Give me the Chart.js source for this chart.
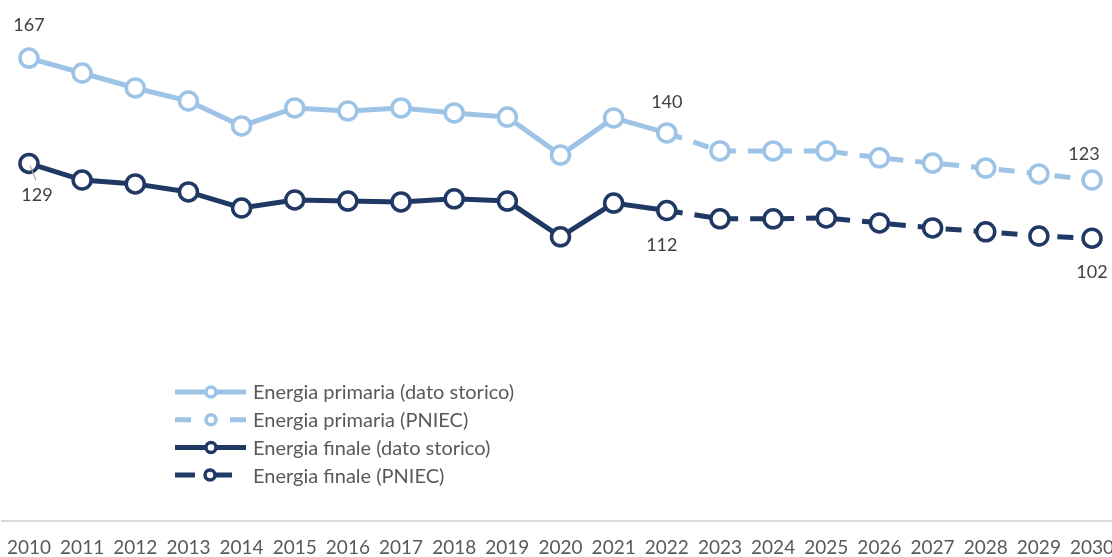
<!DOCTYPE html>
<html>
<head>
<meta charset="utf-8">
<script src="https://cdn.jsdelivr.net/npm/chart.js@4/dist/chart.umd.min.js"></script>
<style>
  html, body { margin: 0; padding: 0; background: #fff; overflow: hidden; }
  #wrap { width: 1112px; height: 557px; overflow: hidden; }
</style>
</head>
<body>
<div id="wrap"><canvas id="c" width="1121" height="557"></canvas></div>
<script>
// anni
var years = ["2010","2011","2012","2013","2014","2015","2016","2017","2018","2019","2020",
             "2021","2022","2023","2024","2025","2026","2027","2028","2029","2030"];

// Energia primaria (Mtep)
var primariaStorico = [167, 161.6, 156.2, 151.5, 142.5, 149, 147.9, 149, 147.2, 145.7, 132, 145.4, 140,
                       null, null, null, null, null, null, null, null];
var primariaPniec   = [null, null, null, null, null, null, null, null, null, null, null, null, 140,
                       133.5, 133.5, 133.5, 131, 129.1, 127.3, 125.2, 123];

// Energia finale (Mtep)
var finaleStorico = [129, 123, 121.6, 118.7, 112.9, 115.8, 115.4, 115.1, 116.2, 115.4, 102.5, 114.7, 112,
                     null, null, null, null, null, null, null, null];
var finalePniec   = [null, null, null, null, null, null, null, null, null, null, null, null, 112,
                     109, 109, 109.3, 107.5, 105.7, 104.3, 102.8, 102];

var colPrim = "#9DC3E6";
var colFin = "#1F3864";
var fontFam = "Lato, 'Open Sans', sans-serif";

// raggio punti: nascondo il punto di raccordo 2022 nelle serie PNIEC
function radii(arr, r)
{
        return arr.map(function(v, i) { return (i === 12) ? 0 : r; });
}

function ds(label, data, color, dashed)
{
        return {
                label: label,
                data: data,
                borderColor: color,
                borderWidth: 5,
                borderDash: dashed ? [16, 12] : [],
                pointRadius: dashed ? radii(data, 9) : 9,
                pointHoverRadius: 9,
                pointBorderWidth: 3.5,
                pointBorderColor: color,
                pointBackgroundColor: "#ffffff",
                tension: 0,
                spanGaps: false,
                fill: false
        };
}

// etichette valore: [dataset, indice, dx, dy]
var valueLabels = [
        [0, 0, 0, -33], [2, 0, 8, 32],
        [0, 12, 0, -31], [2, 12, -5, 35],
        [1, 20, -8, -26], [3, 20, 0, 34]
];

var labelPlugin = {
        id: "valueLabels",
        afterDatasetsDraw: function(chart)
        {
                var ctx = chart.ctx;
                ctx.save();
                ctx.font = "18px " + fontFam;
                ctx.fillStyle = "#404040";
                ctx.textAlign = "center";
                ctx.textBaseline = "middle";
                for (var i = 0; i < valueLabels.length; i++)
                {
                        var l = valueLabels[i];
                        var pt = chart.getDatasetMeta(l[0]).data[l[1]];
                        var v = chart.data.datasets[l[0]].data[l[1]];
                        ctx.fillText(String(Math.round(v)), pt.x + l[2], pt.y + l[3]);
                }
                // piccola linea guida per 129
                var p = chart.getDatasetMeta(2).data[0];
                ctx.strokeStyle = "#a6a6a6";
                ctx.lineWidth = 1.2;
                ctx.beginPath();
                ctx.moveTo(p.x + 1, p.y + 2);
                ctx.lineTo(p.x + 7, p.y + 17);
                ctx.stroke();
                ctx.restore();
        }
};

var legendPlugin = {
        id: "boxLegend",
        afterDraw: function(chart)
        {
                var ctx = chart.ctx;
                var x0 = 175, y0 = 392, step = 27.7;
                var items = chart.data.datasets;
                ctx.save();
                for (var i = 0; i < items.length; i++)
                {
                        var d = items[i];
                        var y = y0 + i * step;
                        var dashed = d.borderDash.length > 0;
                        ctx.strokeStyle = d.borderColor;
                        ctx.lineWidth = 5;
                        ctx.lineCap = "butt";
                        ctx.beginPath();
                        if (!dashed)
                        {
                                ctx.moveTo(x0, y); ctx.lineTo(x0 + 71, y);
                        }
                        else if (i === 1)
                        {
                                ctx.moveTo(x0, y); ctx.lineTo(x0 + 16, y);
                                ctx.moveTo(x0 + 55, y); ctx.lineTo(x0 + 71, y);
                        }
                        else
                        {
                                ctx.moveTo(x0, y); ctx.lineTo(x0 + 20, y);
                                ctx.moveTo(x0 + 37, y); ctx.lineTo(x0 + 57, y);
                        }
                        ctx.stroke();
                        var cx = (i === 3) ? x0 + 35 : x0 + 36;
                        ctx.beginPath();
                        ctx.arc(cx, y, 5, 0, Math.PI * 2);
                        ctx.fillStyle = "#fff";
                        ctx.fill();
                        ctx.lineWidth = 3.5;
                        ctx.stroke();
                        ctx.fillStyle = "#595959";
                        ctx.font = "20px " + fontFam;
                        ctx.textAlign = "left";
                        ctx.textBaseline = "middle";
                        ctx.fillText(d.label, x0 + 78, y + 1);
                }
                ctx.restore();
        }
};

new Chart(document.getElementById("c").getContext("2d"), {
        type: "line",
        data: {
                labels: years,
                datasets: [
                        ds("Energia primaria (dato storico)", primariaStorico, colPrim, false),
                        ds("Energia primaria (PNIEC)", primariaPniec, colPrim, true),
                        ds("Energia finale (dato storico)", finaleStorico, colFin, false),
                        ds("Energia finale (PNIEC)", finalePniec, colFin, true)
                ]
        },
        options: {
                responsive: false,
                animation: false,
                devicePixelRatio: 1,
                layout: { autoPadding: false, padding: { left: 2.4, right: 2.4, top: 22, bottom: 0 } },
                plugins: {
                        legend: { display: false },
                        tooltip: { enabled: false }
                },
                scales: {
                        x: {
                                offset: true,
                                grid: { display: false, drawTicks: false },
                                border: { display: true, color: "#d9d9d9", width: 2 },
                                ticks: {
                                        color: "#595959",
                                        font: { family: fontFam, size: 19 },
                                        padding: 15,
                                        maxRotation: 0,
                                        autoSkip: false
                                },
                                afterFit: function(scale)
                                {
                                        scale.height = 36;
                                        scale.paddingLeft = 0;
                                        scale.paddingRight = 0;
                                }
                        },
                        y: {
                                display: false,
                                min: 0,
                                max: 180
                        }
                }
        },
        plugins: [labelPlugin, legendPlugin]
});
</script>
</body>
</html>
